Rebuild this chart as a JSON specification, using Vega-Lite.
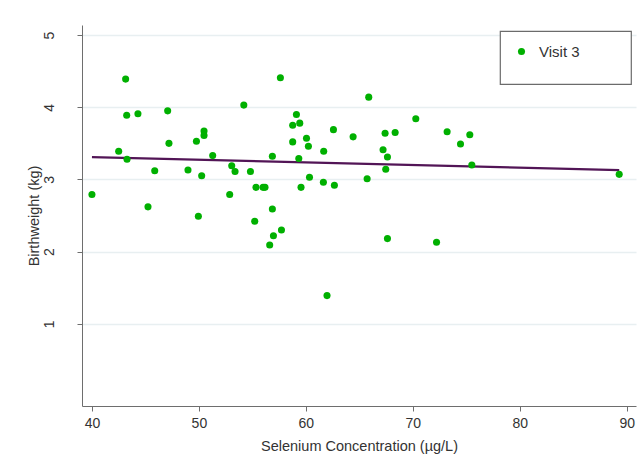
{
  "$schema": "https://vega.github.io/schema/vega-lite/v6.json",
  "width": 554,
  "height": 381,
  "autosize": {"type": "none"},
  "padding": {"left": 82, "top": 25, "right": 8, "bottom": 50},
  "background": "white",
  "config": {"view": {"stroke": null}, "font": "Liberation Sans", "legend": {"strokeWidth": 1.2}},
  "datasets": {
    "points": [
      {"selenium": 40.0, "birthweight": 2.79},
      {"selenium": 42.5, "birthweight": 3.39},
      {"selenium": 43.15, "birthweight": 4.39},
      {"selenium": 43.25, "birthweight": 3.89},
      {"selenium": 43.28, "birthweight": 3.28},
      {"selenium": 44.3, "birthweight": 3.91},
      {"selenium": 45.24, "birthweight": 2.62},
      {"selenium": 45.87, "birthweight": 3.12},
      {"selenium": 47.08, "birthweight": 3.95},
      {"selenium": 47.2, "birthweight": 3.5},
      {"selenium": 48.98, "birthweight": 3.13},
      {"selenium": 49.77, "birthweight": 3.53},
      {"selenium": 49.95, "birthweight": 2.49},
      {"selenium": 50.26, "birthweight": 3.05},
      {"selenium": 50.48, "birthweight": 3.67},
      {"selenium": 50.48, "birthweight": 3.61},
      {"selenium": 51.29, "birthweight": 3.33},
      {"selenium": 52.88, "birthweight": 2.79},
      {"selenium": 53.07, "birthweight": 3.19},
      {"selenium": 53.38, "birthweight": 3.11},
      {"selenium": 54.2, "birthweight": 4.03},
      {"selenium": 54.82, "birthweight": 3.11},
      {"selenium": 55.22, "birthweight": 2.42},
      {"selenium": 55.34, "birthweight": 2.89},
      {"selenium": 56.0, "birthweight": 2.89},
      {"selenium": 56.18, "birthweight": 2.89},
      {"selenium": 56.62, "birthweight": 2.09},
      {"selenium": 56.87, "birthweight": 3.32},
      {"selenium": 56.87, "birthweight": 2.59},
      {"selenium": 56.97, "birthweight": 2.22},
      {"selenium": 57.62, "birthweight": 4.41},
      {"selenium": 57.72, "birthweight": 2.3},
      {"selenium": 58.77, "birthweight": 3.75},
      {"selenium": 58.77, "birthweight": 3.52},
      {"selenium": 59.12, "birthweight": 3.9},
      {"selenium": 59.34, "birthweight": 3.29},
      {"selenium": 59.43, "birthweight": 3.78},
      {"selenium": 59.55, "birthweight": 2.89},
      {"selenium": 60.06, "birthweight": 3.57},
      {"selenium": 60.24, "birthweight": 3.46},
      {"selenium": 60.34, "birthweight": 3.03},
      {"selenium": 61.64, "birthweight": 2.96},
      {"selenium": 61.67, "birthweight": 3.39},
      {"selenium": 61.98, "birthweight": 1.39},
      {"selenium": 62.58, "birthweight": 3.69},
      {"selenium": 62.67, "birthweight": 2.92},
      {"selenium": 64.42, "birthweight": 3.59},
      {"selenium": 65.73, "birthweight": 3.01},
      {"selenium": 65.88, "birthweight": 4.14},
      {"selenium": 67.22, "birthweight": 3.41},
      {"selenium": 67.41, "birthweight": 3.64},
      {"selenium": 67.47, "birthweight": 3.14},
      {"selenium": 67.63, "birthweight": 3.31},
      {"selenium": 67.63, "birthweight": 2.18},
      {"selenium": 68.35, "birthweight": 3.65},
      {"selenium": 70.28, "birthweight": 3.84},
      {"selenium": 72.22, "birthweight": 2.13},
      {"selenium": 73.21, "birthweight": 3.66},
      {"selenium": 74.46, "birthweight": 3.49},
      {"selenium": 75.33, "birthweight": 3.62},
      {"selenium": 75.52, "birthweight": 3.2},
      {"selenium": 89.3, "birthweight": 3.07}
    ],
    "fit": [
      {"selenium": 40.0, "birthweight": 3.31},
      {"selenium": 89.3, "birthweight": 3.13}
    ]
  },
  "layer": [
    {
      "data": {"name": "fit"},
      "mark": {"type": "line", "color": "#521556", "strokeWidth": 2.2},
      "encoding": {
        "x": {
          "field": "selenium",
          "type": "quantitative",
          "scale": {"domain": [39.07, 90.87], "nice": false, "zero": false},
          "axis": {
            "title": "Selenium Concentration (µg/L)",
            "values": [40, 50, 60, 70, 80, 90],
            "grid": false,
            "domainColor": "#6e6e6e",
            "tickColor": "#6e6e6e",
            "tickSize": 5,
            "labelFontSize": 14,
            "labelColor": "#333333",
            "labelPadding": 5,
            "titleFontSize": 14.5,
            "titleFontWeight": "normal",
            "titleColor": "#333333",
            "titlePadding": 9
          }
        },
        "y": {
          "field": "birthweight",
          "type": "quantitative",
          "scale": {"domain": [-0.14, 5.14], "nice": false, "zero": false},
          "axis": {
            "title": "Birthweight (kg)",
            "values": [1, 2, 3, 4, 5],
            "format": "d",
            "grid": true,
            "gridColor": "#e8eff1",
            "gridWidth": 1.5,
            "domainColor": "#6e6e6e",
            "tickColor": "#6e6e6e",
            "tickSize": 5,
            "labelFontSize": 14,
            "labelColor": "#333333",
            "labelAngle": -90,
            "labelAlign": "center",
            "labelBaseline": "bottom",
            "labelPadding": 21,
            "titleFontSize": 14.5,
            "titleFontWeight": "normal",
            "titleColor": "#333333",
            "titlePadding": 1
          }
        }
      }
    },
    {
      "data": {"name": "points"},
      "mark": {"type": "circle", "size": 50, "opacity": 1},
      "encoding": {
        "x": {"field": "selenium", "type": "quantitative", "title": "Selenium Concentration (µg/L)"},
        "y": {"field": "birthweight", "type": "quantitative", "title": "Birthweight (kg)"},
        "color": {
          "datum": "Visit 3",
          "type": "nominal",
          "scale": {"range": ["#00b000"]},
          "legend": {
            "orient": "none",
            "legendX": 418,
            "legendY": 6,
            "title": " ",
            "titleOrient": "bottom",
            "titleFontSize": 6,
            "titlePadding": 5,
            "padding": 13,
            "strokeColor": "#6b6b6b",
            "fillColor": "white",
            "symbolType": "circle",
            "symbolSize": 50,
            "symbolStrokeWidth": 0,
            "symbolOffset": 1,
            "labelOffset": 10,
            "labelFontSize": 15,
            "labelColor": "#333333",
            "labelExpr": "datum.label + '\u00a0\u00a0\u00a0\u00a0\u00a0\u00a0\u00a0\u00a0\u00a0\u200b'"
          }
        }
      }
    }
  ]
}
